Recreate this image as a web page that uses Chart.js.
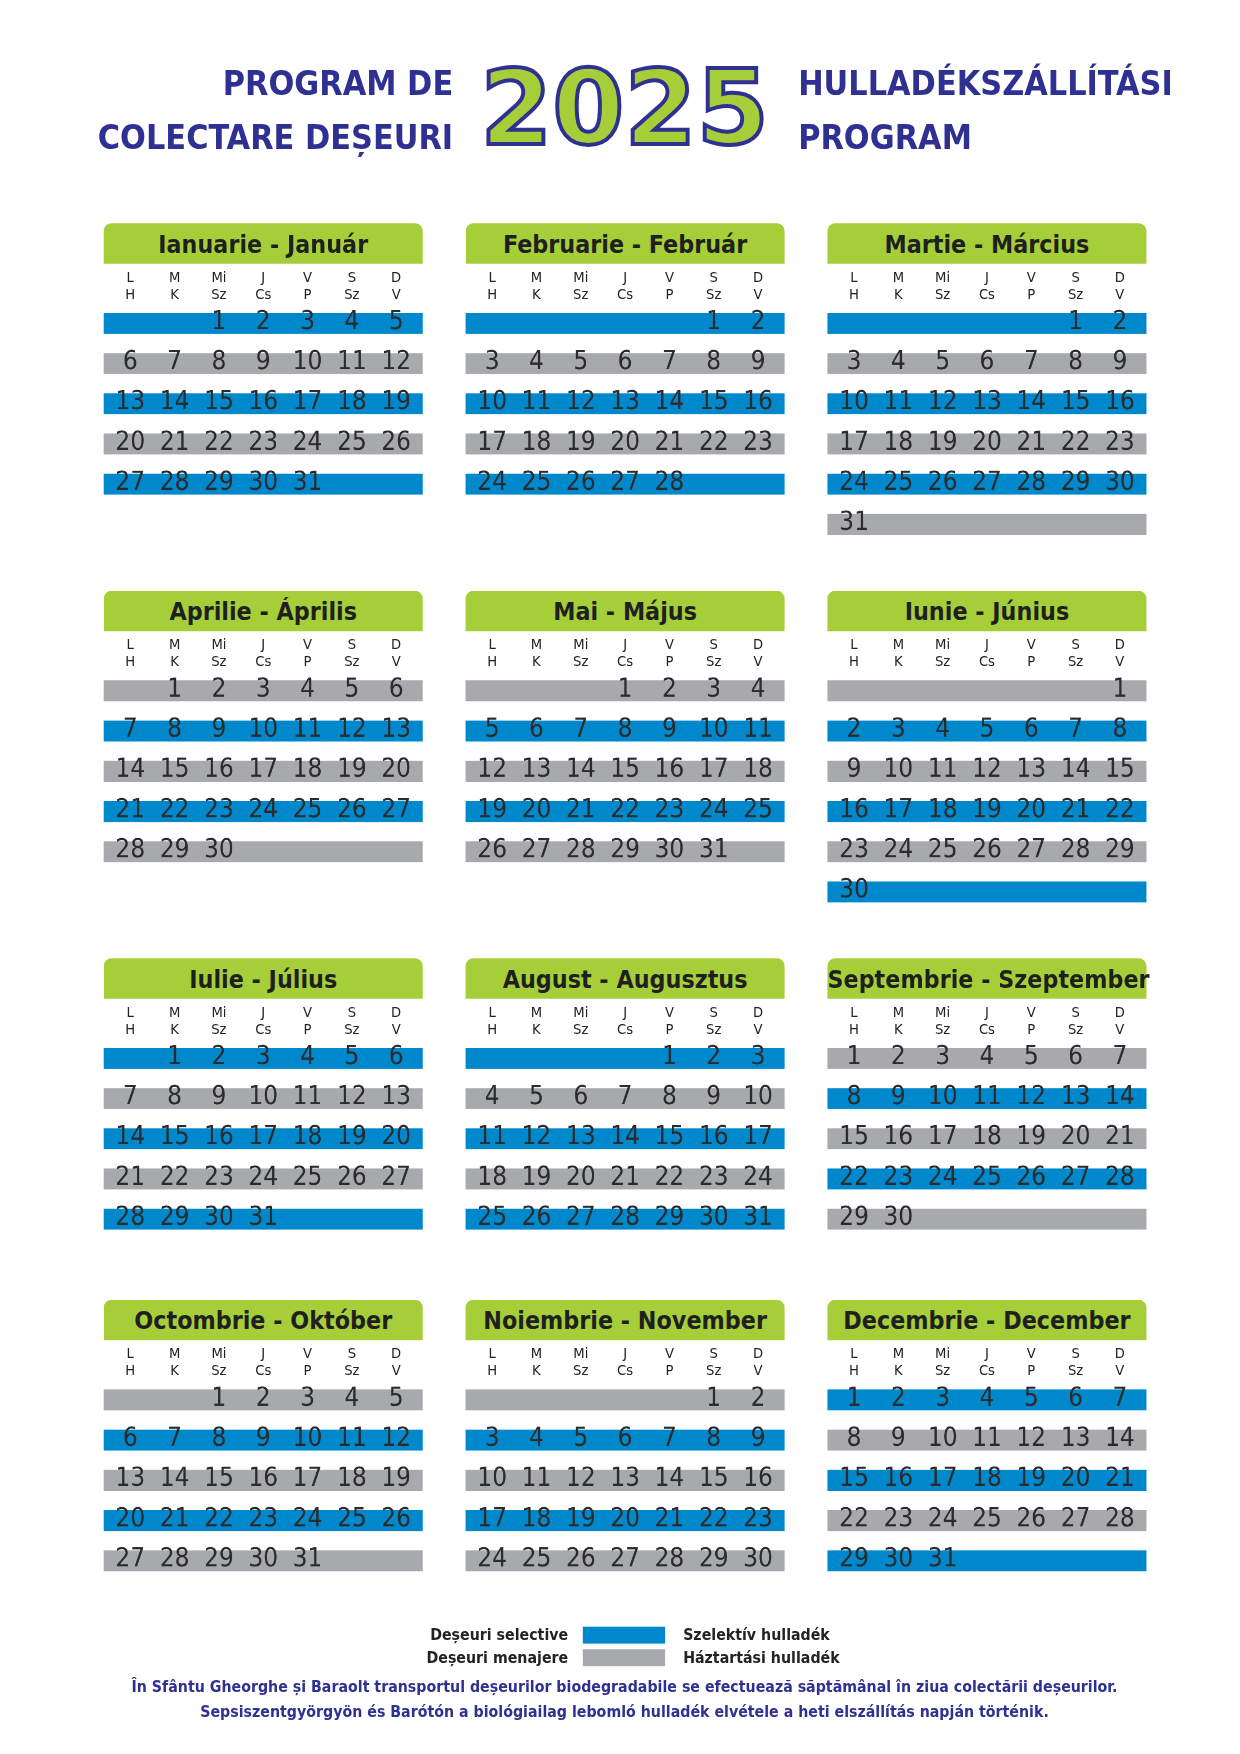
<!DOCTYPE html>
<html><head><meta charset="utf-8">
<script src="https://cdn.jsdelivr.net/npm/chart.js@4/dist/chart.umd.min.js"></script>
<style>
body{margin:0;width:1240px;height:1754px;background:#fff;overflow:hidden;font-family:"DejaVu Sans Condensed","DejaVu Sans",sans-serif}
#wrap{position:absolute;left:0;top:0;width:1100px;height:1556px;transform:scale(1.1273);transform-origin:0 0}
.a{position:absolute;white-space:nowrap}
.t{color:#2e3192;font-weight:bold;font-size:30px;line-height:48px}
.hd{background:#a6ce39;border-radius:7px 7px 0 0;height:36px;line-height:38px;text-align:center;font-weight:bold;font-size:22px;color:#1f1f1f;width:283px}
.dl{width:30px;text-align:center;font-size:13px;line-height:15px;color:#222}
.lg{font-weight:bold;font-size:14px;color:#222}
.ft{font-weight:bold;font-size:14px;color:#2e3192;width:1108px;text-align:center;left:0}
</style></head><body><div id="wrap">
<div class="a t" style="right:698px;top:50px;text-align:right">PROGRAM DE<br>COLECTARE DEȘEURI</div>
<div class="a t" style="left:708px;top:50px">HULLADÉKSZÁLLÍTÁSI<br>PROGRAM</div>
<div class="a" style="left:418px;top:42px;width:272px;height:110px;font-weight:bold;font-size:92px;line-height:110px;color:#a6ce39;-webkit-text-stroke:3.5px #2e3192;text-align:center;font-family:'DejaVu Sans','Noto Sans',sans-serif">2025</div>
<div id="cal"></div>
<div class="a lg" style="right:596px;top:1442px">Deșeuri selective</div>
<div class="a" style="left:517px;top:1443px;width:73px;height:15px;background:#0088cc"></div>
<div class="a lg" style="left:606px;top:1442px">Szelektív hulladék</div>
<div class="a lg" style="right:596px;top:1462px">Deșeuri menajere</div>
<div class="a" style="left:517px;top:1463px;width:73px;height:15px;background:#a7a9ac"></div>
<div class="a lg" style="left:606px;top:1462px">Háztartási hulladék</div>
<div class="a ft" style="top:1488px">În Sfântu Gheorghe și Baraolt transportul deșeurilor biodegradabile se efectuează săptămânal în ziua colectării deșeurilor.</div>
<div class="a ft" style="top:1510px">Sepsiszentgyörgyön és Barótón a biológiailag lebomló hulladék elvétele a heti elszállítás napján történik.</div>
</div>
<script>
const monthNames=["Ianuarie - Január","Februarie - Február","Martie - Március","Aprilie - Április","Mai - Május","Iunie - Június","Iulie - Július","August - Augusztus","Septembrie - Szeptember","Octombrie - Október","Noiembrie - November","Decembrie - December"];
const firstWeekday=[2,5,5,1,3,6,1,4,0,2,5,0];
const daysInMonth=[31,28,31,30,31,30,31,31,30,31,30,31];
const firstRowBlue=[true,true,true,false,false,false,true,true,false,false,false,true];
const dayTop=["L","M","Mi","J","V","S","D"];
const dayBottom=["H","K","Sz","Cs","P","Sz","V"];
const rowLabels=["1","2","3","4","5","6"];
const BLUE="#0088cc",GRAY="#a7a9ac";
const colLeft=[92,413,734], blockTop=[198,524,850,1153];
const W=283, ROWH=35.6;
const cal=document.getElementById('cal');
const numPlugin={id:'nums',afterDatasetsDraw(ch){
  const m=ch.options.plugins.nums.m, ctx=ch.ctx, xs=ch.scales.x, ys=ch.scales.y;
  ctx.save();ctx.fillStyle="#2b2b2b";ctx.font='23px "DejaVu Sans Condensed"';ctx.textAlign='center';ctx.textBaseline='middle';
  for(let d=1;d<=daysInMonth[m];d++){const i=firstWeekday[m]+d-1;
    ctx.fillText(String(d),xs.getPixelForValue(i%7+1),ys.getPixelForValue(Math.floor(i/7))-1);}
  ctx.restore();}};
for(let m=0;m<12;m++){
  const L=colLeft[m%3],T=blockTop[Math.floor(m/3)];
  const h=document.createElement('div');h.className='a hd';h.style.left=L+'px';h.style.top=T+'px';h.textContent=monthNames[m];cal.appendChild(h);
  for(let c=0;c<7;c++){const d=document.createElement('div');d.className='a dl';
    d.style.left=(L+W*(c+0.6)/7.2-15)+'px';d.style.top=(T+40)+'px';d.innerHTML=dayTop[c]+'<br>'+dayBottom[c];cal.appendChild(d);}
  const cv=document.createElement('canvas');cv.className='a';cv.style.left=L+'px';cv.style.top=(T+89-ROWH/2)+'px';
  cv.style.width=W+'px';cv.style.height=Math.round(ROWH*6)+'px';cal.appendChild(cv);
  const nrows=Math.ceil((firstWeekday[m]+daysInMonth[m])/7);
  const data=[],cols=[];
  for(let r=0;r<6;r++){data.push(r<nrows?[0.4,7.6]:null);cols.push(((r%2===0)===firstRowBlue[m])?BLUE:GRAY);}
  new Chart(cv,{type:'bar',data:{labels:rowLabels,datasets:[{data,backgroundColor:cols,categoryPercentage:1,barPercentage:0.52,borderWidth:0}]},
    options:{indexAxis:'y',responsive:false,animation:false,devicePixelRatio:2,layout:{padding:0},
      plugins:{legend:{display:false},tooltip:{enabled:false},nums:{m}},
      scales:{x:{type:'linear',min:0.4,max:7.6,display:false},y:{display:false}}},plugins:[numPlugin]});
}
</script></body></html>
